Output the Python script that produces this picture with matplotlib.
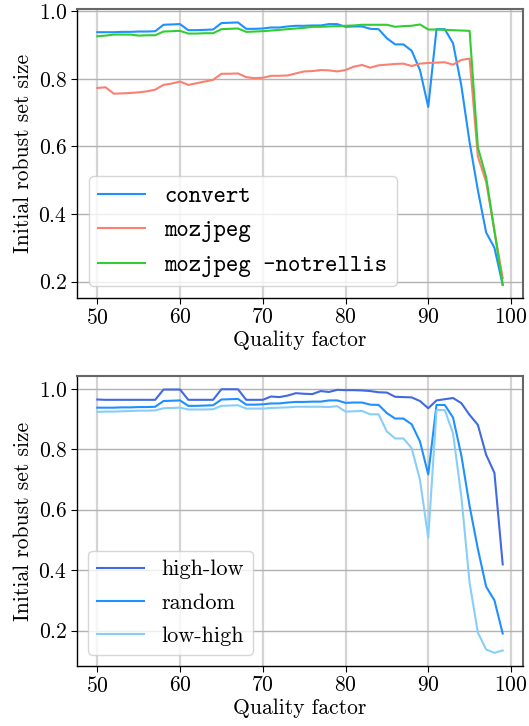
import matplotlib
matplotlib.use("Agg")
import matplotlib.pyplot as plt
import numpy as np

plt.rcParams["font.family"] = ["cmr10", "DejaVu Serif"]
plt.rcParams["mathtext.fontset"] = "cm"
plt.rcParams["axes.formatter.use_mathtext"] = True
plt.rcParams["font.size"] = 15.5

quality = np.arange(50, 100)

# convert == random (same encoder run)
convert = [0.938, 0.938, 0.938, 0.939, 0.939, 0.940, 0.940, 0.941, 0.960, 0.961,
           0.962, 0.944, 0.944, 0.945, 0.946, 0.965, 0.966, 0.967, 0.948, 0.948,
           0.949, 0.952, 0.952, 0.955, 0.957, 0.957, 0.958, 0.958, 0.962, 0.962,
           0.954, 0.955, 0.955, 0.948, 0.947, 0.920, 0.902, 0.902, 0.883, 0.826,
           0.717, 0.947, 0.947, 0.905, 0.780, 0.612, 0.470, 0.345, 0.300, 0.190]

mozjpeg = [0.773, 0.775, 0.756, 0.757, 0.758, 0.760, 0.763, 0.768, 0.782, 0.786,
           0.792, 0.782, 0.787, 0.792, 0.797, 0.815, 0.815, 0.816, 0.805, 0.802,
           0.803, 0.809, 0.809, 0.810, 0.816, 0.822, 0.823, 0.826, 0.825, 0.822,
           0.826, 0.836, 0.841, 0.833, 0.840, 0.842, 0.844, 0.845, 0.838, 0.845,
           0.847, 0.848, 0.849, 0.842, 0.856, 0.860, 0.570, 0.495, 0.350, 0.210]

notrellis = [0.926, 0.928, 0.931, 0.931, 0.931, 0.928, 0.929, 0.929, 0.940, 0.941,
             0.942, 0.934, 0.934, 0.935, 0.935, 0.947, 0.948, 0.949, 0.939, 0.940,
             0.941, 0.943, 0.945, 0.947, 0.949, 0.951, 0.954, 0.954, 0.955, 0.956,
             0.957, 0.958, 0.960, 0.960, 0.960, 0.960, 0.954, 0.956, 0.957, 0.961,
             0.946, 0.946, 0.945, 0.944, 0.943, 0.942, 0.597, 0.509, 0.350, 0.190]

high_low = [0.965, 0.964, 0.964, 0.964, 0.964, 0.964, 0.964, 0.964, 0.998, 0.998,
            0.998, 0.964, 0.964, 0.964, 0.964, 0.999, 0.999, 0.999, 0.964, 0.964,
            0.964, 0.975, 0.973, 0.978, 0.986, 0.984, 0.983, 0.993, 0.990, 0.997,
            0.996, 0.996, 0.995, 0.993, 0.989, 0.988, 0.974, 0.973, 0.972, 0.960,
            0.936, 0.962, 0.966, 0.970, 0.953, 0.914, 0.881, 0.782, 0.722, 0.419]

random_order = convert

low_high = [0.924, 0.925, 0.925, 0.926, 0.927, 0.928, 0.928, 0.929, 0.936, 0.937,
            0.938, 0.932, 0.932, 0.932, 0.933, 0.944, 0.945, 0.946, 0.935, 0.935,
            0.935, 0.937, 0.938, 0.939, 0.941, 0.941, 0.941, 0.941, 0.940, 0.943,
            0.925, 0.926, 0.927, 0.916, 0.916, 0.859, 0.836, 0.836, 0.804, 0.699,
            0.507, 0.930, 0.930, 0.853, 0.644, 0.358, 0.193, 0.137, 0.126, 0.134]


def style_axes(ax):
    ax.set_axisbelow(True)
    ax.grid(axis="x", color="#d4d4d4", lw=1.6)
    ax.grid(axis="y", color="#b2b2b2", lw=1.0)
    for side in ("top", "right"):
        ax.spines[side].set_color("#666666")
        ax.spines[side].set_linewidth(1.5)
    for side in ("left", "bottom"):
        ax.spines[side].set_color("black")
        ax.spines[side].set_linewidth(1.0)
    ax.set_xticks([50, 60, 70, 80, 90, 100])
    ax.set_yticks([0.2, 0.4, 0.6, 0.8, 1.0])
    ax.set_xlabel("Quality factor", labelpad=2)
    ax.set_ylabel("Initial robust set size")
    ax.tick_params(length=4, pad=3)


fig = plt.figure(figsize=(5.29, 7.26), dpi=100)
ax1 = fig.add_axes([0.1456, 0.5895, 0.843, 0.3977])
ax2 = fig.add_axes([0.1456, 0.0826, 0.843, 0.3994])

ax1.plot(quality, convert, color="#1E90FF", lw=1.5, label="convert")
ax1.plot(quality, mozjpeg, color="#FA8072", lw=1.5, label="mozjpeg")
ax1.plot(quality, notrellis, color="#32CD32", lw=1.5, label="mozjpeg -notrellis")
style_axes(ax1)
ax1.legend(loc="lower left", prop={"family": "cmtt10", "size": 17},
           handlelength=2.0, borderaxespad=0.5, framealpha=0.8)

ax2.plot(quality, high_low, color="#4169E1", lw=1.5, label="high-low")
ax2.plot(quality, random_order, color="#1E90FF", lw=1.5, label="random")
ax2.plot(quality, low_high, color="#87CEFA", lw=1.5, label="low-high")
style_axes(ax2)
ax2.legend(loc="lower left", fontsize=16, labelspacing=0.62, handlelength=2.1,
           borderaxespad=0.5, framealpha=0.8)

fig.savefig("out.png", dpi=100)
